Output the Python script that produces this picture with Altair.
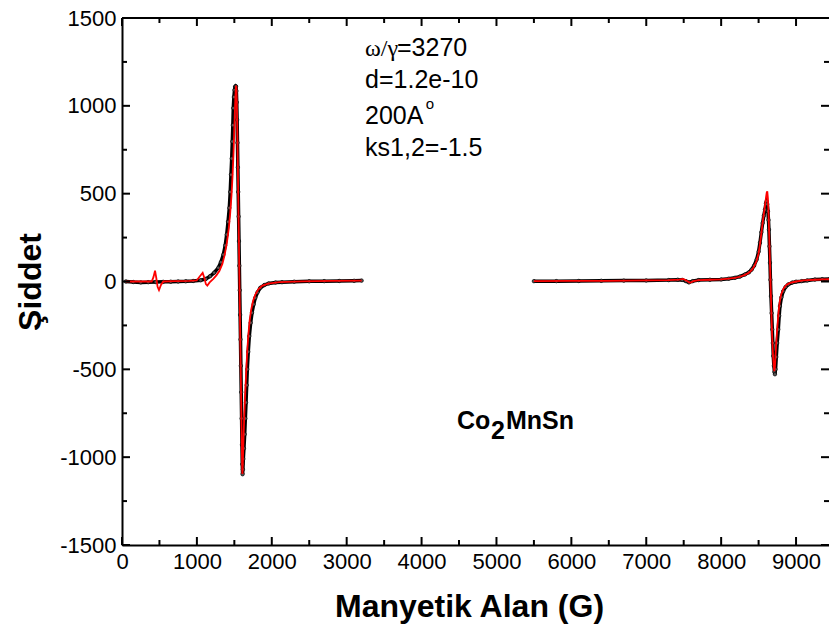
import altair as alt
import pandas as pd

# ---- measured data (black = experiment, red = fit) ----
x_exp1 = [50, 150, 250, 350, 450, 550, 650, 750, 850, 950, 1050, 1120, 1175, 1230, 1286, 1320, 1353, 1378,
          1398, 1416, 1433, 1445, 1455, 1465, 1473, 1480, 1486, 1494, 1502, 1510, 1517, 1522, 1527, 1532,
          1537, 1542, 1547, 1552, 1557, 1562, 1567, 1572, 1577, 1582, 1587, 1592, 1597, 1602, 1606, 1610,
          1614, 1620, 1628, 1638, 1647, 1656, 1665, 1673, 1686, 1700, 1718, 1736, 1758, 1780, 1810, 1847,
          1900, 1958, 2050, 2136, 2300, 2500, 2700, 2900, 3100, 3200]
y_exp1 = [0, -3, -5, -4, -3, -2, -1, 0, 1, 3, 7, 15, 30, 50, 78, 110, 153, 205,
          267, 340, 419, 510, 608, 700, 797, 890, 987, 1050, 1090, 1108, 1112, 1110, 1085, 1020,
          920, 790, 650, 510, 370, 230, 90, -50, -190, -330, -480, -630, -780, -930, -1040, -1097,
          -1070, -1010, -950, -870, -780, -689, -590, -500, -400, -311, -235, -178, -130, -93, -62, -36,
          -20, -11, -6, -4, -1, 1, 2, 3, 4, 5]

x_exp2 = [5500, 5800, 6100, 6400, 6700, 7000, 7300, 7420, 7480, 7530, 7570, 7620, 7700, 7850, 8000, 8100,
          8184, 8250, 8318, 8370, 8407, 8440, 8474, 8500, 8518, 8537, 8554, 8570, 8585, 8598, 8607, 8616,
          8625, 8632, 8638, 8645, 8652, 8658, 8665, 8674, 8683, 8690, 8696, 8704, 8712, 8718, 8726, 8736,
          8748, 8763, 8775, 8785, 8805, 8829, 8860, 8896, 8950, 9000, 9074, 9150, 9252, 9350, 9450, 9600]
y_exp2 = [2, 2, 3, 4, 5, 6, 8, 10, 9, 2, -5, 2, 8, 10, 12, 16,
          21, 28, 40, 52, 68, 90, 125, 170, 220, 280, 333, 375, 409, 445, 456, 440,
          400, 350, 295, 200, 106, 10, -83, -180, -273, -350, -424, -480, -515, -528, -500, -430,
          -350, -273, -195, -140, -90, -55, -32, -17, -6, -1, 2, 6, 11, 13, 14, 15]

x_fit1 = [50, 200, 396, 420, 441, 458, 475, 494, 520, 552, 700, 900, 997, 1040, 1077, 1100, 1120, 1139,
          1170, 1219, 1260, 1300, 1340, 1370, 1400, 1425, 1445, 1462, 1476, 1488, 1498, 1506, 1513, 1519,
          1524, 1528, 1532, 1537, 1542, 1547, 1552, 1557, 1562, 1567, 1572, 1577, 1582, 1587, 1592, 1597,
          1601, 1605, 1608, 1612, 1618, 1625, 1635, 1647, 1660, 1673, 1688, 1705, 1725, 1750, 1780, 1820,
          1870, 1950, 2100, 2400, 2800, 3200]
y_fit1 = [0, 0, 0, 25, 62, 20, -30, -49, -20, 0, 2, 4, 6, 30, 49, 20, -15, -23,
          -5, 15, 35, 60, 100, 150, 220, 300, 390, 490, 600, 720, 840, 950, 1040, 1095,
          1115, 1100, 1040, 930, 790, 640, 490, 340, 190, 40, -110, -260, -410, -560, -710, -860,
          -980, -1070, -1095, -1050, -960, -860, -740, -620, -500, -390, -300, -220, -160, -110, -75, -45,
          -25, -12, -4, 1, 3, 5]

x_fit2 = [5500, 6000, 6500, 7000, 7300, 7440, 7494, 7540, 7583, 7630, 7700, 7850, 8000, 8100, 8184, 8250,
          8318, 8370, 8407, 8440, 8474, 8500, 8518, 8537, 8554, 8570, 8585, 8598, 8608, 8616, 8624, 8632,
          8640, 8648, 8656, 8664, 8672, 8680, 8690, 8700, 8709, 8718, 8728, 8740, 8752, 8765, 8780, 8800,
          8830, 8870, 8920, 9000, 9100, 9250, 9450, 9600]
y_fit2 = [2, 3, 4, 6, 8, 11, 15, 4, -7, 2, 8, 10, 12, 16, 20, 27,
          38, 50, 64, 85, 118, 160, 210, 275, 335, 385, 430, 475, 505, 513, 475, 395,
          285, 165, 45, -75, -195, -300, -400, -470, -510, -485, -405, -320, -250, -180, -120, -75,
          -42, -20, -8, 0, 6, 10, 13, 14]

# axis ticks
x_major = [0, 1000, 2000, 3000, 4000, 5000, 6000, 7000, 8000, 9000]
x_minor = [500, 1500, 2500, 3500, 4500, 5500, 6500, 7500, 8500, 9500]
y_major = [-1500, -1000, -500, 0, 500, 1000, 1500]
y_minor = [-1250, -750, -250, 250, 750, 1250]

# annotations
ann_text = ["d=1.2e-10", "200A", "ks1,2=-1.5", "=3270"]
ann_x = [3245, 3245, 3245, 3672]
ann_y = [1102, 894, 713, 1282]

W, H = 707, 527
XDOM = [0, 9440]
YDOM = [-1500, 1500]
FONT = "Liberation Sans"

axis_x = alt.Axis(values=x_major, title="Manyetik Alan (G)", labelExpr="'' + datum.value",
                  ticks=False, domain=True, domainColor="black", domainWidth=2, grid=False,
                  labelFont=FONT, labelFontSize=22, labelColor="black", labelPadding=6,
                  labelFlush=False, labelOverlap=False,
                  titleFont=FONT, titleFontSize=32, titleFontWeight="bold", titleColor="black",
                  titleX=347, titleY=71, titleBaseline="alphabetic", titleAlign="center")
axis_y = alt.Axis(values=y_major, title="Şiddet", labelExpr="'' + datum.value",
                  ticks=False, domain=True, domainColor="black", domainWidth=2, grid=False,
                  labelFont=FONT, labelFontSize=22, labelColor="black", labelPadding=6,
                  labelFlush=False, labelOverlap=False,
                  titleFont=FONT, titleFontSize=32, titleFontWeight="bold", titleColor="black",
                  titlePadding=12)


def X(f):
    return alt.X(f, scale=alt.Scale(domain=XDOM, nice=False, zero=False), axis=axis_x)


def Y(f):
    return alt.Y(f, scale=alt.Scale(domain=YDOM, nice=False, zero=False), axis=axis_y)


exp_df = pd.DataFrame({
    "x": x_exp1 + x_exp2,
    "y": y_exp1 + y_exp2,
    "seg": ["a"] * len(x_exp1) + ["b"] * len(x_exp2),
})
fit_df = pd.DataFrame({
    "x": x_fit1 + x_fit2,
    "y": y_fit1 + y_fit2,
    "seg": ["a"] * len(x_fit1) + ["b"] * len(x_fit2),
})

base_exp = alt.Chart(exp_df)
exp_line = base_exp.mark_line(color="black", strokeWidth=3.5, clip=True).encode(
    x=X("x:Q"), y=Y("y:Q"), detail="seg:N", order="x:Q")
exp_pts = base_exp.mark_point(shape="circle", filled=True, size=12, fill="#555555",
                              stroke="black", strokeWidth=0.7, opacity=1, clip=True).encode(
    x=X("x:Q"), y=Y("y:Q"))
fit_line = alt.Chart(fit_df).mark_line(color="#ff0000", strokeWidth=1.8, clip=True).encode(
    x=X("x:Q"), y=Y("y:Q"), detail="seg:N", order="x:Q")


# tick marks (inside)
def tick_layer(vals, channel, length, side):
    df = pd.DataFrame({"v": vals})
    m = alt.Chart(df).mark_rule(color="black", strokeWidth=2)
    if channel == "y":
        if side == "left":
            return m.encode(y=Y("v:Q"), x=alt.value(0), x2=alt.value(length))
        return m.encode(y=Y("v:Q"), x=alt.value(W), x2=alt.value(W - length))
    if side == "bottom":
        return m.encode(x=X("v:Q"), y=alt.value(H), y2=alt.value(H - length))
    return m.encode(x=X("v:Q"), y=alt.value(0), y2=alt.value(length))


ticks = [
    tick_layer(y_major, "y", 8, "left"), tick_layer(y_minor, "y", 5, "left"),
    tick_layer(y_major, "y", 8, "right"), tick_layer(y_minor, "y", 5, "right"),
    tick_layer(x_major, "x", 8, "bottom"), tick_layer(x_minor, "x", 5, "bottom"),
    tick_layer(x_major, "x", 8, "top"), tick_layer(x_minor, "x", 5, "top"),
]

top_spine = alt.Chart(pd.DataFrame({"v": [0]})).mark_rule(color="black", strokeWidth=2).encode(
    x=alt.value(0), x2=alt.value(W), y=alt.value(0))

ann_df = pd.DataFrame({"x": ann_x, "y": ann_y, "t": ann_text})
ann = alt.Chart(ann_df).mark_text(align="left", baseline="alphabetic", font=FONT, fontSize=25,
                                  color="black").encode(x=X("x:Q"), y=Y("y:Q"), text="t:N")
omega = alt.Chart(pd.DataFrame({"x": [3245], "y": [1282], "t": ["ω/γ"]})).mark_text(
    align="left", baseline="alphabetic", font="Liberation Serif", fontSize=24, color="black").encode(
    x=X("x:Q"), y=Y("y:Q"), text="t:N")
sup = alt.Chart(pd.DataFrame({"x": [4055], "y": [983], "t": ["o"]})).mark_text(
    align="left", baseline="alphabetic", font=FONT, fontSize=15, color="black").encode(
    x=X("x:Q"), y=Y("y:Q"), text="t:N")

comp_df = pd.DataFrame({"x": [4473, 4927, 5127], "y": [-838, -895, -838], "t": ["Co", "2", "MnSn"]})
comp = alt.Chart(comp_df).mark_text(align="left", baseline="alphabetic", font=FONT, fontSize=25,
                                    fontWeight="bold", color="black").encode(
    x=X("x:Q"), y=Y("y:Q"), text="t:N")

chart = alt.layer(exp_line, exp_pts, fit_line, *ticks, top_spine, ann, omega, sup, comp).properties(
    width=W, height=H,
    autosize=alt.AutoSizeParams(type="none"),
    padding={"left": 122, "top": 18, "right": 0, "bottom": 81},
).configure_view(strokeWidth=0).configure(background="white")

chart.save("out.html", embed_options={"renderer": "svg", "actions": False})
